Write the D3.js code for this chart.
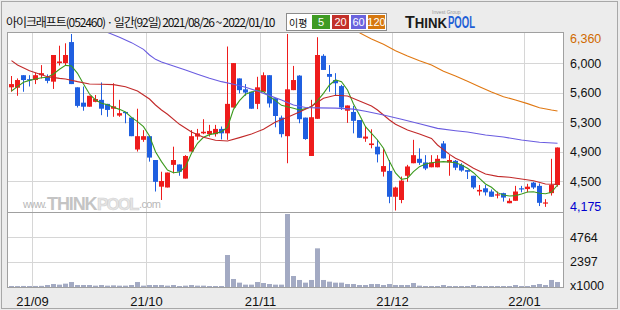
<!DOCTYPE html>
<html>
<head>
<meta charset="utf-8">
<script src="https://cdn.jsdelivr.net/npm/d3@7"></script>
<style>
  body { margin: 0; background: #ececec; }
  svg { display: block; font-family: "Liberation Sans", Arial, sans-serif; }
</style>
</head>
<body>
<div id="chart"></div>
<script>
// ---------- daily candles 2021/08/26 ~ 2022/01/10 (92 trading days) ----------
const opens  = [5700,5695,5850,5800,5790,5850,5830,5770,6000,6000,6260,5700,5510,5460,5520,5545,5495,5435,5350,5395,
                5325,4930,5050,5095,4800,4470,4460,4740,4745,4570,4905,5090,5130,5120,5120,5185,5130,5450,5810,5675,
                5645,5495,5645,5850,5565,5325,5095,5665,5845,5325,4850,5310,6090,5865,5790,5715,5410,5395,5295,5065,
                4985,4965,4655,4665,4345,4305,4605,4760,4815,4770,4710,4710,5005,4770,4790,4740,4675,4605,4410,4450,
                4410,4360,4390,4265,4295,4450,4440,4520,4480,4265,4390,4490];
const highs  = [5840,5810,5850,5850,5880,5975,5860,6100,6215,6245,6360,5700,5710,5595,5605,5760,5495,5750,5545,5395,
                5325,5435,5170,5095,4800,4655,4645,4965,4745,4860,5170,5185,5305,5235,5235,5215,6205,6000,5810,5740,
                5645,5830,5885,5850,5565,5350,6360,5965,5850,5325,5545,6320,6110,5975,5875,5730,5475,5470,5295,5215,
                5180,5050,4935,4800,4470,4595,4740,5050,4945,4860,4860,4860,5035,4860,4800,4760,4675,4605,4490,4490,
                4435,4410,4395,4325,4480,4480,4505,4530,4510,4315,4815,4955];
const lows   = [5645,5595,5645,5710,5740,5810,5750,5680,5970,5975,5740,5450,5410,5460,5515,5355,5335,5335,5335,5255,
                5095,4905,5025,4780,4410,4305,4460,4635,4605,4570,4905,5050,5120,5090,5090,5055,5050,5450,5625,5595,
                5435,5430,5645,5450,5205,5080,4760,5665,5255,5050,4850,5310,5915,5645,5605,5420,5260,5130,5075,5025,
                4945,4770,4595,4265,4175,4265,4530,4760,4740,4675,4710,4710,4820,4605,4675,4655,4565,4440,4360,4360,
                4345,4325,4285,4265,4295,4400,4400,4440,4230,4220,4360,4470];
const closes = [5740,5790,5790,5790,5850,5875,5780,6100,6020,6100,5740,5470,5460,5595,5555,5435,5420,5465,5380,5380,
                5095,5095,5095,4830,4530,4540,4645,4800,4655,4850,5095,5130,5150,5160,5185,5130,5495,6000,5665,5635,
                5435,5700,5850,5500,5345,5120,5675,5790,5305,5060,5330,6100,5915,5830,5750,5450,5475,5285,5075,5090,
                5005,4870,4725,4345,4460,4545,4720,4860,4765,4695,4770,4815,4820,4800,4705,4670,4655,4460,4430,4400,
                4345,4375,4335,4295,4410,4440,4470,4460,4270,4275,4490,4955];
// volume, x1000 shares
const volumes = [95,90,100,95,100,110,190,285,225,320,475,190,190,190,130,190,130,160,130,130,
                 190,475,130,190,190,190,130,190,95,130,190,130,130,95,95,95,3055,765,415,225,
                 225,475,380,285,225,225,6970,1050,670,415,670,3690,670,510,415,415,285,285,190,190,
                 285,285,190,285,190,190,190,380,130,95,95,95,190,95,95,95,95,190,95,95,
                 95,95,95,95,190,95,95,190,285,190,670,475];

// ---------- moving averages ----------
const ma5 = [5654,5708,5762,5786,5803,5819,5824,5865,5923,5972,5964,5873,5741,5617,5543,5502,5485,5452,5427,5394,
             5328,5275,5213,5097,4903,4780,4676,4643,4652,4718,4883,5007,5081,5114,5130,5151,5205,5427,5535,5613,
             5642,5663,5646,5584,5535,5477,5460,5440,5419,5436,5460,5535,5626,5729,5791,5770,5667,5493,5357,5213,
             5130,5048,4945,4780,4640,4560,4575,4656,4718,4751,4767,4775,4780,4775,4767,4738,4697,4643,4573,4503,
             4462,4396,4367,4355,4359,4379,4404,4408,4388,4383,4400,4491];
const ma20 = [[0,6030],[1,5976],[3,5906],[4,5881],[6,5832],[8,5811],[9,5803],[11,5770],[13,5741],[15,5737],
              [17,5733],[19,5708],[21,5654],[22,5605],[23,5555],[24,5481],[25,5419],[26,5366],[28,5242],[30,5147],
              [32,5081],[34,5044],[36,5035],[38,5077],[40,5122],[42,5180],[44,5271],[46,5328],[48,5395],[50,5465],
              [52,5564],[54,5601],[56,5593],[58,5531],[60,5469],[61,5419],[63,5295],[64,5242],[66,5172],[68,5122],
              [70,5068],[71,4986],[73,4870],[74,4821],[75,4788],[77,4697],[79,4627],[81,4598],[83,4586],[85,4565],
              [87,4544],[89,4503],[91,4499]];
const ma60 = [[16,6380],[18,6319],[20,6253],[22,6170],[23,6100],[24,6046],[25,6013],[27,5964],[29,5914],[31,5861],
              [33,5811],[35,5770],[37,5737],[39,5700],[41,5654],[43,5597],[45,5543],[47,5480],[49,5450],[51,5445],
              [54,5442],[57,5430],[59,5403],[62,5357],[65,5304],[68,5250],[71,5192],[74,5163],[76,5147],[79,5110],
              [82,5085],[85,5048],[88,5019],[91,5007]];
const ma120 = [[58,6375],[60,6298],[62,6232],[64,6154],[66,6088],[68,6030],[70,5976],[72,5898],[74,5840],[76,5774],
               [78,5708],[80,5642],[82,5584],[84,5543],[86,5498],[88,5448],[90,5419],[91,5407]];

// ---------- axes ----------
const monthTicks = [{ day: 4, label: "21/09" }, { day: 23, label: "21/10" }, { day: 42, label: "21/11" },
                    { day: 64, label: "21/12" }, { day: 86, label: "22/01" }];
const priceTicks = [6360, 5996, 5632, 5268, 4903, 4539, 4175];
const priceTickLabels = ["6,360", "6,000", "5,600", "5,300", "4,900", "4,500", "4,175"];
const volTicks = [4764, 2397, 0];
const volTickLabels = ["4764", "2397", "x1000"];
const maLabels = ["5", "20", "60", "120"];

const title = "아이크래프트(052460) · 일간(92일) 2021/08/26 ~ 2022/01/10";

// ---------- layout ----------
const width = 620, height = 310;
const plot = { left: 7, right: 563, top: 32, mid: 212, bottom: 287 };
const UP = "#ee1c1c", DOWN = "#1f5fe0";
const maColors = ["#3c9a1e", "#c22a2a", "#6a5ce0", "#e07812"];
const boxColors = ["#3f9b23", "#c3302a", "#6b63dd", "#d6780f"];
const gridColor = "#d6d6d6";

const svg = d3.select("#chart").append("svg")
  .attr("width", width).attr("height", height);

svg.append("rect").attr("width", width).attr("height", height).attr("fill", "#ececec");
svg.append("rect").attr("x", 1.5).attr("y", 1.5).attr("width", 616).attr("height", 307)
  .attr("fill", "none").attr("stroke", "#a8a8a8");

// plot background
svg.append("rect")
  .attr("x", plot.left + 0.5).attr("y", plot.top + 0.5)
  .attr("width", plot.right - plot.left).attr("height", plot.bottom - plot.top)
  .attr("fill", "#fff");

// scales
const days = d3.range(opens.length);
const x = d3.scaleBand().domain(days).range([8, 560]);
const cx = i => x(i) + 3.5;
const y = d3.scaleLinear().domain([4175, 6360]).range([210.5, 34]);
const yVol = d3.scaleLinear().domain([0, 7160]).range([plot.bottom, plot.mid]);

// grid
const grid = svg.append("g").attr("stroke", gridColor).attr("stroke-width", 1);
grid.selectAll(".vgrid").data(monthTicks).join("line")
  .attr("x1", d => x(d.day) + 0.5).attr("x2", d => x(d.day) + 0.5)
  .attr("y1", plot.top).attr("y2", plot.bottom);
grid.selectAll(".pgrid").data(priceTicks.slice(1, -1)).join("line")
  .attr("x1", plot.left).attr("x2", plot.right)
  .attr("y1", d => Math.round(y(d)) + 0.5).attr("y2", d => Math.round(y(d)) + 0.5);
grid.selectAll(".vgrid2").data(volTicks.slice(0, 2)).join("line")
  .attr("x1", plot.left).attr("x2", plot.right)
  .attr("y1", d => Math.round(yVol(d)) + 0.5).attr("y2", d => Math.round(yVol(d)) + 0.5);

// watermark (tight letter-spacing keeps each word in its own slot)
const wm = svg.append("g");
wm.append("text").attr("x", 23).attr("y", 208).attr("font-size", 11).attr("fill", "#b8b8b8")
  .attr("letter-spacing", -0.8).text("www.");
wm.append("text").attr("x", 47).attr("y", 210).attr("font-size", 18).attr("font-weight", "bold")
  .attr("fill", "#c4c4c4").attr("letter-spacing", -1.1).text("THINK");
wm.append("text").attr("x", 97).attr("y", 210).attr("font-size", 17).attr("font-weight", "bold")
  .attr("fill", "#e6e6e6").attr("stroke", "#d2d2d2").attr("stroke-width", 0.6)
  .attr("letter-spacing", -1.9).text("POOL");
wm.append("text").attr("x", 139).attr("y", 208).attr("font-size", 11).attr("fill", "#b8b8b8")
  .attr("letter-spacing", -0.6).text(".com");

// volume bars
svg.append("g").selectAll("rect").data(days).join("rect")
  .attr("x", i => x(i) + 1).attr("width", 5)
  .attr("y", i => yVol(volumes[i]))
  .attr("height", i => plot.bottom - yVol(volumes[i]))
  .attr("fill", "#a3aac3");

// candles
const candles = days.map(i => ({ i, o: opens[i], h: highs[i], l: lows[i], c: closes[i] }));
const cg = svg.append("g");
cg.selectAll("line").data(candles).join("line")
  .attr("x1", d => cx(d.i)).attr("x2", d => cx(d.i))
  .attr("y1", d => y(d.h)).attr("y2", d => y(d.l))
  .attr("stroke", d => d.c >= d.o ? UP : DOWN);
cg.selectAll("rect").data(candles).join("rect")
  .attr("x", d => x(d.i) + 1).attr("width", 5)
  .attr("y", d => y(Math.max(d.o, d.c)))
  .attr("height", d => Math.max(1.2, Math.abs(y(d.o) - y(d.c))))
  .attr("fill", d => d.c >= d.o ? UP : DOWN);

// moving averages, clipped to price panel
svg.append("clipPath").attr("id", "priceClip").append("rect")
  .attr("x", plot.left + 1).attr("y", plot.top + 1)
  .attr("width", plot.right - plot.left - 1).attr("height", plot.mid - plot.top - 1);
const maGen = d3.line().x(d => cx(d[0])).y(d => y(d[1]));
const maSeries = [ma5.map((v, i) => [i, v]), ma20, ma60, ma120];
svg.append("g").attr("clip-path", "url(#priceClip)")
  .selectAll("path").data(maSeries).join("path")
  .attr("d", maGen).attr("fill", "none")
  .attr("stroke", (d, k) => maColors[k]).attr("stroke-width", 1.1);

// panel borders
const frame = svg.append("g").attr("stroke", "#a0a0a0").attr("fill", "none");
frame.append("rect").attr("x", plot.left + 0.5).attr("y", plot.top + 0.5)
  .attr("width", plot.right - plot.left).attr("height", plot.bottom - plot.top);
frame.append("line").attr("x1", plot.left).attr("x2", plot.right)
  .attr("y1", plot.mid + 0.5).attr("y2", plot.mid + 0.5);

// right axis labels
svg.append("g").selectAll("text").data(priceTicks).join("text")
  .attr("x", 570)
  .attr("y", d => Math.min(206, Math.max(38, y(d))))
  .attr("dy", "0.36em")
  .attr("font-size", 12.5)
  .attr("fill", (d, k) => k === 0 ? "#d06a00" : k === priceTicks.length - 1 ? "#0000d0" : "#111")
  .text((d, k) => priceTickLabels[k]);
svg.append("g").selectAll("text").data(volTicks).join("text")
  .attr("x", 570)
  .attr("y", d => Math.min(285, yVol(d)))
  .attr("dy", "0.36em")
  .attr("font-size", 12.5).attr("fill", "#111")
  .text((d, k) => volTickLabels[k]);

// x axis labels
svg.append("g").selectAll("text").data(monthTicks).join("text")
  .attr("x", d => x(d.day) + 0.5).attr("y", 301).attr("dy", "0.36em")
  .attr("text-anchor", "middle").attr("font-size", 13).attr("fill", "#111")
  .text(d => d.label);

// header title (narrow spacing so it ends before the legend box)
svg.append("text").attr("x", 6).attr("y", 27)
  .attr("font-family", "'Noto Sans CJK KR', sans-serif").attr("font-size", 12)
  .attr("letter-spacing", -1.1).attr("fill", "#111")
  .text(title);

// MA legend
const lg = svg.append("g");
lg.append("rect").attr("x", 286.5).attr("y", 13.5).attr("width", 100).attr("height", 17)
  .attr("fill", "#fff").attr("stroke", "#8c8c8c");
lg.append("text").attr("x", 289).attr("y", 26.5)
  .attr("font-family", "'Noto Sans CJK KR', sans-serif").attr("font-size", 10).attr("fill", "#111")
  .text("이평");
const boxW = [18, 17, 15, 17];
const boxX = d3.cumsum([312].concat(boxW.slice(0, -1).map(w => w + 2)));
const lb = lg.selectAll("g").data(maLabels).join("g");
lb.append("rect").attr("x", (d, k) => boxX[k]).attr("y", 15).attr("width", (d, k) => boxW[k]).attr("height", 14)
  .attr("fill", (d, k) => boxColors[k]);
lb.append("text").attr("x", (d, k) => boxX[k] + boxW[k] / 2).attr("y", 22).attr("dy", "0.36em")
  .attr("text-anchor", "middle").attr("font-size", 11).attr("fill", "#fff").text(d => d);

// logo
const logo = svg.append("g").attr("font-weight", "bold");
logo.append("text").attr("x", 405).attr("y", 28).attr("fill", "#1a1a1a")
  .attr("textLength", 42).attr("lengthAdjust", "spacingAndGlyphs")
  .call(t => { t.append("tspan").attr("font-size", 17).text("T"); t.append("tspan").attr("font-size", 14).text("HINK"); });
logo.append("text").attr("x", 448).attr("y", 28).attr("font-size", 16).attr("fill", "#1f5fd6")
  .attr("textLength", 27).attr("lengthAdjust", "spacingAndGlyphs").text("POOL");
logo.append("text").attr("x", 432).attr("y", 14).attr("font-size", 5).attr("font-weight", "normal")
  .attr("fill", "#999").text("Invest Group");
</script>
</body>
</html>
